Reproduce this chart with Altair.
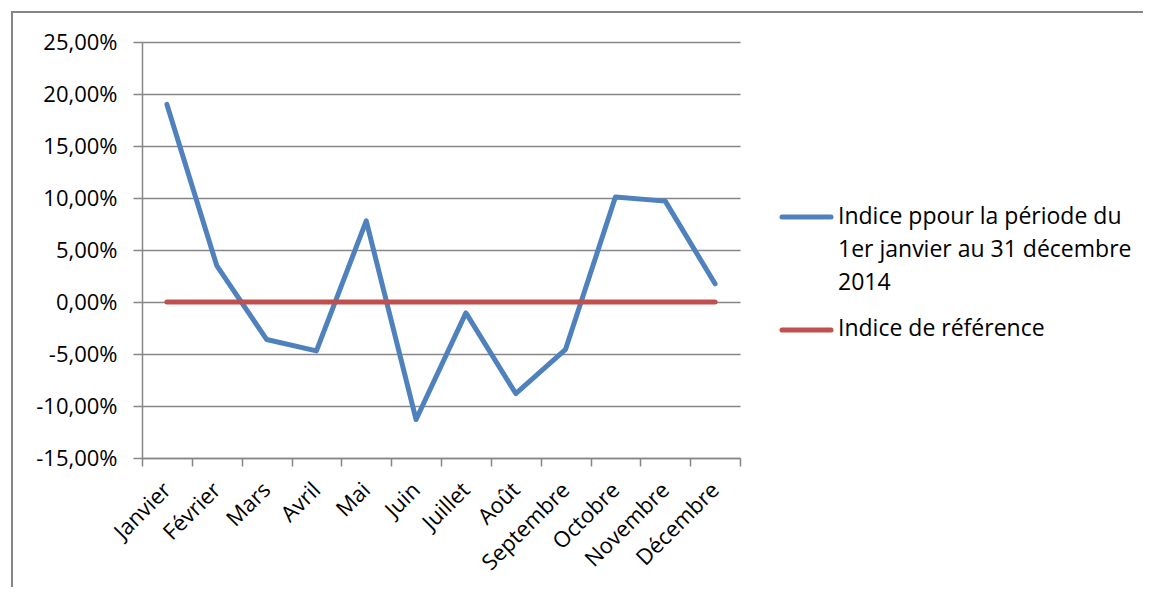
import altair as alt
import pandas as pd

months = ["Janvier", "Février", "Mars", "Avril", "Mai", "Juin", "Juillet",
          "Août", "Septembre", "Octobre", "Novembre", "Décembre"]
indice = [0.190, 0.035, -0.036, -0.047, 0.078, -0.113, -0.0105, -0.088,
          -0.0455, 0.101, 0.097, 0.0175]
reference = [0.0] * 12
series_names = ["Indice ppour la période du 1er janvier au 31 décembre 2014",
                "Indice de référence"]
legend_lines = [["Indice ppour la période du", "1er janvier au 31 décembre", "2014"],
                ["Indice de référence"]]
y_ticks = [-0.15, -0.10, -0.05, 0.0, 0.05, 0.10, 0.15, 0.20, 0.25]
colors = ["#4F81BD", "#C0504D"]

FONT = "Open Sans"
GRAY = "#868686"
W, H = 598, 416
TOTAL_W, TOTAL_H = 1135, 579

rows = []
for m, a in zip(months, indice):
    rows.append({"mois": m, "valeur": a, "serie": series_names[0]})
for m, b in zip(months, reference):
    rows.append({"mois": m, "valeur": b, "serie": series_names[1]})
df = pd.DataFrame(rows)

x_enc = alt.X("mois:N", sort=months, bandPosition=0.5,
              scale=alt.Scale(type="band", paddingInner=0, paddingOuter=0),
              axis=alt.Axis(title=None, tickBand="extent", tickSize=8, tickColor=GRAY,
                            tickWidth=1.5, domainColor=GRAY, domainWidth=1.5,
                            labelAngle=-45, labelAlign="right", labelBaseline="middle",
                            labelFont=FONT, labelFontSize=22, labelColor="black",
                            labelPadding=20, grid=False))
y_enc = alt.Y("valeur:Q",
              scale=alt.Scale(domain=[-0.15, 0.25], nice=False, zero=False),
              axis=alt.Axis(title=None, values=y_ticks, tickSize=9, tickColor=GRAY,
                            tickWidth=1.5, domainColor=GRAY, domainWidth=1.5,
                            grid=True, gridColor=GRAY, gridWidth=1.5,
                            labelFont=FONT, labelFontSize=22, labelColor="black",
                            labelPadding=16,
                            labelExpr="replace(replace(format(datum.value, '.2%'), '.', ','), '\u2212', '-')"))
color_enc = alt.Color("serie:N", legend=None,
                      scale=alt.Scale(domain=series_names, range=colors))

blue = alt.Chart(df[df.serie == series_names[0]]).mark_line(
    strokeWidth=5, strokeCap="round", strokeJoin="round").encode(
    x=x_enc, y=y_enc, color=color_enc)
red = alt.Chart(df[df.serie == series_names[1]]).mark_line(
    strokeWidth=5, strokeCap="round", strokeJoin="round").encode(
    x=x_enc, y=y_enc, color=color_enc)

one = pd.DataFrame({"k": [0]})
border_top = alt.Chart(one).mark_rule(color=GRAY, strokeWidth=2).encode(
    x=alt.value(-131), x2=alt.value(1200), y=alt.value(-30))
border_left = alt.Chart(one).mark_rule(color=GRAY, strokeWidth=2).encode(
    x=alt.value(-130), y=alt.value(-31), y2=alt.value(800))

leg_layers = []
sym_y = [175, 288]
txt_y = [164, 276]
for i in range(2):
    leg_layers.append(alt.Chart(one).mark_rule(strokeWidth=5, strokeCap="round",
                                               color=colors[i]).encode(
        x=alt.value(640), x2=alt.value(689), y=alt.value(sym_y[i])))
    leg_layers.append(alt.Chart(one).mark_text(align="left", baseline="top",
                                               font=FONT, fontSize=23, lineHeight=33,
                                               color="black").encode(
        x=alt.value(696), y=alt.value(txt_y[i]), text=alt.value(legend_lines[i])))

chart = alt.layer(border_top, border_left, blue, red, *leg_layers).properties(
    width=W, height=H,
    autosize=alt.AutoSizeParams(type="none"),
    padding={"left": 134, "top": 34, "right": TOTAL_W - 134 - W, "bottom": TOTAL_H - 34 - H},
).configure_view(stroke="transparent", strokeWidth=0)

chart.save("out.html", embed_options={"renderer": "svg", "actions": False})
